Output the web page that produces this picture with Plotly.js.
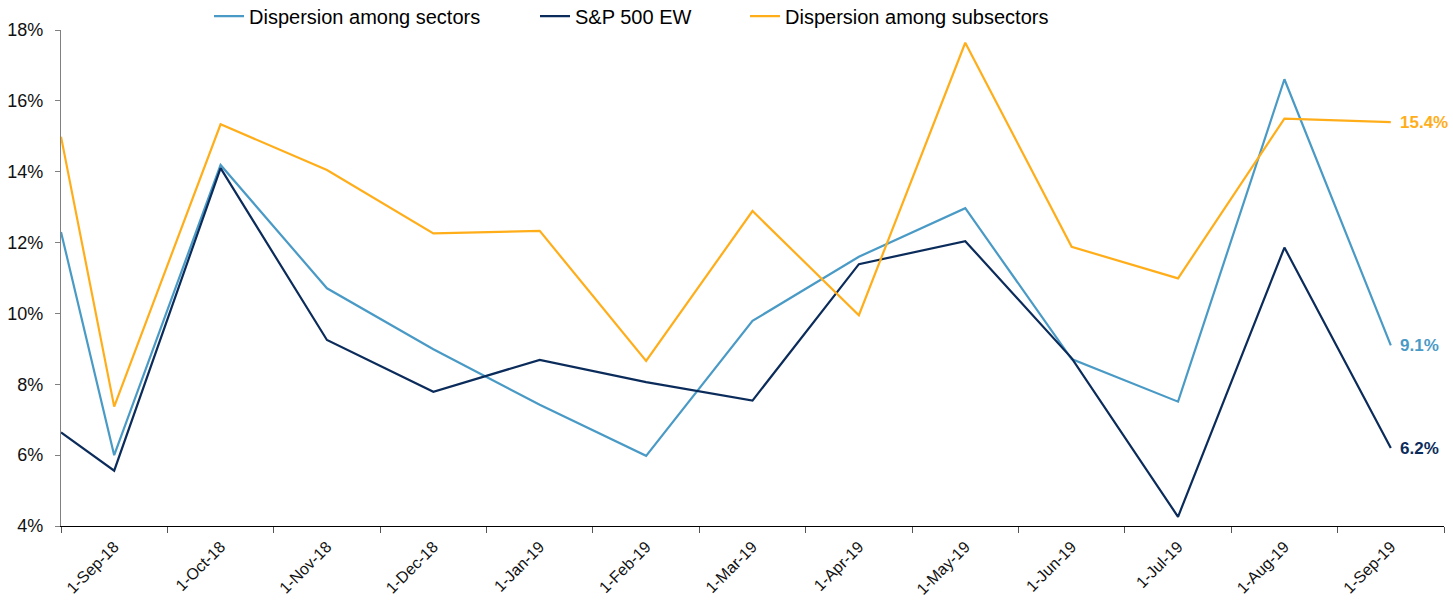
<!DOCTYPE html>
<html>
<head>
<meta charset="utf-8">
<script src="https://cdn.plot.ly/plotly-3.0.1.min.js"></script>
<style>html,body{margin:0;padding:0;background:#fff;}#chart{width:1453px;height:600px;}</style>
</head>
<body>
<div id="chart"></div>
<script>
// Category labels (month starts) and x positions (index of month; first reading sits at the left edge of the axis)
const tickLabels = ['1-Sep-18','1-Oct-18','1-Nov-18','1-Dec-18','1-Jan-19','1-Feb-19','1-Mar-19','1-Apr-19','1-May-19','1-Jun-19','1-Jul-19','1-Aug-19','1-Sep-19'];
const xPos = [-0.5, 0, 1, 2, 3, 4, 5, 6, 7, 8, 9, 10, 11, 12];

// Series values (%)
const sectors    = [12.3, 6.0, 14.19, 10.71, 8.99, 7.42, 5.98, 9.79, 11.6, 12.97, 8.71, 7.51, 16.61, 9.1];
const sp500ew    = [6.64, 5.56, 14.1, 9.25, 7.79, 8.69, 8.06, 7.54, 11.39, 12.04, 8.74, 4.26, 11.86, 6.2];
const subsectors = [14.99, 7.37, 15.34, 14.05, 12.26, 12.33, 8.66, 12.89, 9.95, 17.64, 11.88, 10.99, 15.5, 15.4];

const names  = ['Dispersion among sectors', 'S&P 500 EW', 'Dispersion among subsectors'];
const colors = ['#4a9ac6', '#0b2c5b', '#ffae1a'];
const series = [sectors, sp500ew, subsectors];
const legendIds = ['legend', 'legend2', 'legend3'];

const FONT = 'Arial, "Liberation Sans", sans-serif';

const traces = series.map((s, i) => ({
  x: xPos, y: s, type: 'scatter', mode: 'lines', name: names[i],
  line: {color: colors[i], width: 2.2},
  legend: legendIds[i], hoverinfo: 'skip', cliponaxis: false
}));

const annotations = series.map((s, i) => ({
  x: xPos[xPos.length - 1], y: s[s.length - 1], xref: 'x', yref: 'y',
  text: s[s.length - 1].toFixed(1) + '%', showarrow: false,
  xanchor: 'left', yanchor: 'middle', xshift: 7,
  font: {family: FONT, size: 17, color: colors[i], weight: 'bold'}
}));

const PL = 61, PW = 1383;
const legPx = [209, 535, 745];
const legBase = {orientation: 'h', yanchor: 'middle', y: 1.028, xanchor: 'left',
  font: {family: FONT, size: 20, color: '#000'}, bgcolor: 'rgba(0,0,0,0)', borderwidth: 0};

const layout = {
  width: 1453, height: 600,
  margin: {l: 61, r: 9, t: 30, b: 74, autoexpand: false},
  paper_bgcolor: '#fff', plot_bgcolor: '#fff',
  showlegend: true,
  legend:  Object.assign({}, legBase, {x: (legPx[0] - PL) / PW}),
  legend2: Object.assign({}, legBase, {x: (legPx[1] - PL) / PW}),
  legend3: Object.assign({}, legBase, {x: (legPx[2] - PL) / PW}),
  xaxis: {
    type: 'linear', range: [-0.5, 12.5], fixedrange: true,
    tickmode: 'array', tickvals: tickLabels.map((_, i) => i), ticktext: tickLabels,
    tickangle: -45, ticks: 'outside', ticklen: 0,
    minor: {tickmode: 'linear', tick0: -0.5, dtick: 1, ticks: 'outside', ticklen: 6, tickcolor: '#555', tickwidth: 1},
    showline: true, linecolor: '#000', linewidth: 1.2,
    showgrid: false, zeroline: false,
    tickfont: {family: FONT, size: 16, color: '#111'},
    ticklabelstandoff: 4
  },
  yaxis: {
    range: [4, 18], dtick: 2, tick0: 4, ticksuffix: '%', fixedrange: true,
    ticks: 'outside', ticklen: 5, tickcolor: '#808080',
    showline: true, linecolor: '#808080', linewidth: 1.2,
    showgrid: false, zeroline: false,
    tickfont: {family: FONT, size: 18, color: '#111'},
    ticklabelstandoff: 8
  },
  annotations: annotations
};

Plotly.newPlot('chart', traces, layout, {staticPlot: true, displayModeBar: false});
</script>
</body>
</html>
